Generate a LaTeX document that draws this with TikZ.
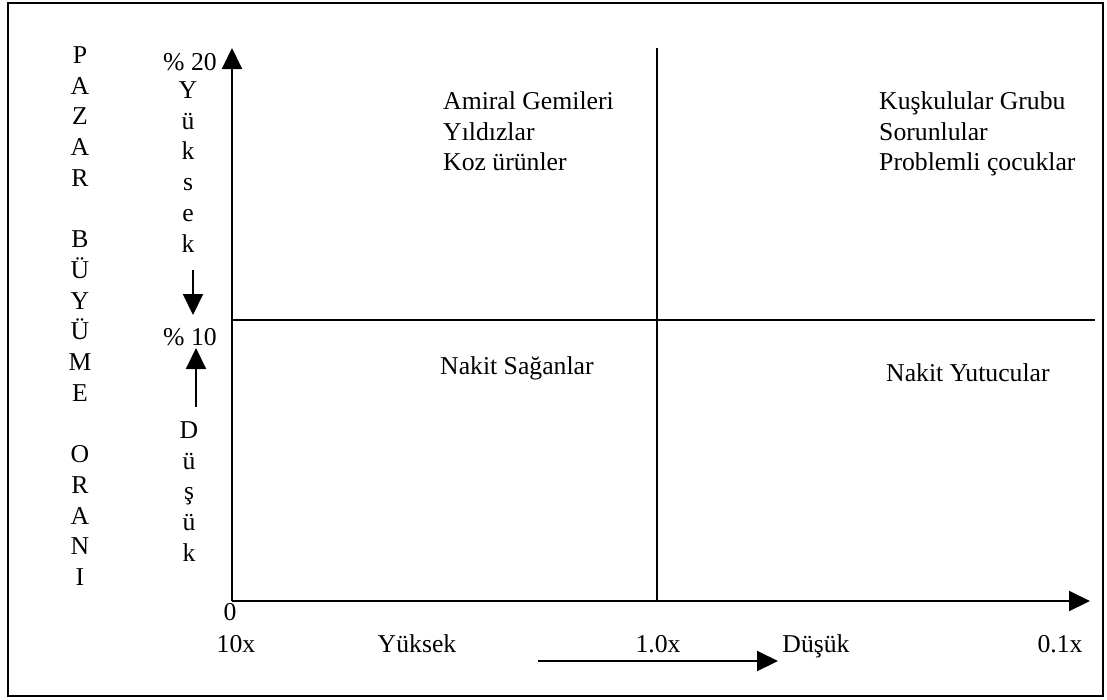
\documentclass[tikz,border=0pt]{standalone}
\usepackage{fontspec}
\setmainfont{Liberation Serif}
\usetikzlibrary{arrows.meta}

\begin{document}
\begin{tikzpicture}[x=1pt,y=-1pt]
\tikzstyle{every node}+=[inner sep=0pt]
\tikzstyle{lbl}=[font=\fontsize{25.7}{30.7}\selectfont]
\tikzstyle{stack}=[lbl, align=center, anchor=north]
\tikzstyle{quad}=[lbl, align=left, anchor=north west]
\tikzstyle{axis}=[black, line width=2pt, -{Triangle[length=21pt,width=20pt]}]
\tikzstyle{grid}=[black, line width=2pt]
\useasboundingbox (0,0) rectangle (1107,699);
\draw [black, line width=2.5pt] (8,3) rectangle (1103,696);
\coordinate (O) at (232,601);
\coordinate (ytop) at (232,48);
\coordinate (xend) at (1090,601);
\coordinate (hl) at (232,320);
\coordinate (hr) at (1095,320);
\coordinate (vt) at (657,48);
\coordinate (vb) at (657,601);
\draw [axis] (O) -- (ytop);
\draw [axis] (O) -- (xend);
\draw [grid] (hl) -- (hr);
\draw [grid] (vt) -- (vb);
\node [stack] (pazar) at (80,46.5) {P\\A\\Z\\A\\R\\[30.7pt]B\\Ü\\Y\\Ü\\M\\E\\[30.7pt]O\\R\\A\\N\\I};
\node [lbl, anchor=base] (p20) at (190,70) {\% 20};
\node [stack] (yuksek) at (188,81.5) {Y\\ü\\k\\s\\e\\k};
\coordinate (dn1) at (193,270);
\coordinate (dn2) at (193,315);
\draw [axis] (dn1) -- (dn2);
\node [lbl, anchor=base] (p10) at (190,345) {\% 10};
\coordinate (up1) at (196,407);
\coordinate (up2) at (196,348);
\draw [axis] (up1) -- (up2);
\node [stack] (dusuk) at (189,421.5) {D\\ü\\ş\\ü\\k};
\node [lbl, anchor=base] (zero) at (230,620) {0};
\node [lbl, anchor=base] (tenx) at (236,652) {10x};
\node [lbl, anchor=base] (hilbl) at (417,652) {Yüksek};
\node [lbl, anchor=base] (onex) at (658,652) {1.0x};
\node [lbl, anchor=base] (lolbl) at (816,652) {Düşük};
\node [lbl, anchor=base] (tenthx) at (1060,652) {0.1x};
\coordinate (ar1) at (538,661);
\coordinate (ar2) at (778,661);
\draw [axis] (ar1) -- (ar2);
\node [quad] (amiral) at (443,91.4) {Amiral Gemileri\\Yıldızlar\\Koz ürünler};
\node [quad] (kuskulu) at (879,91.4) {Kuşkulular Grubu\\Sorunlular\\Problemli çocuklar};
\node [lbl, anchor=base west] (saganlar) at (440,374) {Nakit Sağanlar};
\node [lbl, anchor=base west] (yutucular) at (886,381) {Nakit Yutucular};
\end{tikzpicture}
\end{document}
